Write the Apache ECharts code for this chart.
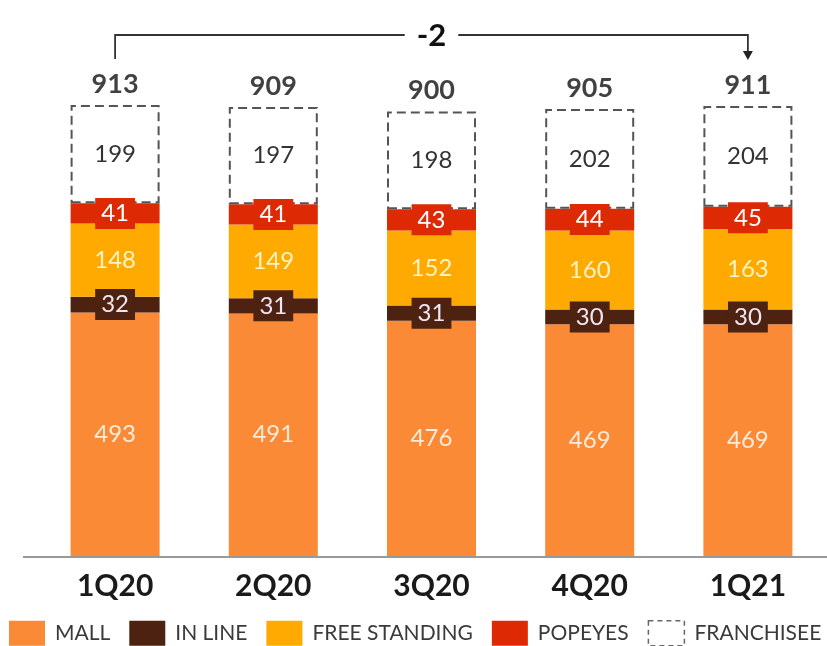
<!DOCTYPE html>
<html><head><meta charset="utf-8">
<script src="https://cdn.jsdelivr.net/npm/echarts@6/dist/echarts.min.js"></script>
<style>html,body{margin:0;padding:0;background:#fff}#c{width:827px;height:646px}</style>
</head><body><div id="c"></div>
<script>
const categories = ['1Q20','2Q20','3Q20','4Q20','1Q21'];
const mall = [493,491,476,469,469];
const inLine = [32,31,31,30,30];
const freeStanding = [148,149,152,160,163];
const popeyes = [41,41,43,44,45];
const franchisee = [199,197,198,202,204];
const totals = [913,909,900,905,911];
const changeLabel = '-2';

const FONT = 'Lato';
const chart = echarts.init(document.getElementById('c'));
const segLabel = (color) => ({show:true, position:'inside', color:color, fontSize:24, fontFamily:FONT});
const option = {
  animation:false,
  grid:{left:36, width:795, top:62, bottom:90},
  xAxis:{type:'category', data:categories, axisLine:{show:false}, axisTick:{show:false},
    axisLabel:{margin:15, fontSize:30, fontWeight:'bold', color:'#1a1a1a', fontFamily:FONT}},
  yAxis:{type:'value', min:0, max:1000, show:false, splitLine:{show:false}},
  legend:{top:620, left:9, right:0, padding:0, icon:'rect', itemWidth:36, itemHeight:25, itemGap:19,
    textStyle:{fontSize:21, color:'#3a3a3a', fontFamily:FONT, padding:[0,0,0,5]},
    data:['MALL','IN LINE','FREE STANDING','POPEYES',
      {name:'FRANCHISEE', itemStyle:{color:'#fff', borderColor:'#666', borderWidth:1.5, borderType:[5,4]}}]},
  series:[
    {name:'MALL', type:'bar', stack:'s', barWidth:89, data:mall, itemStyle:{color:'#FB8A36'},
      label:segLabel('#FFEBD8')},
    {name:'IN LINE', type:'bar', stack:'s', data:inLine, itemStyle:{color:'#4E2210'},
      label:Object.assign(segLabel('#EEE6F2'),{backgroundColor:'#4E2210', padding:[4,6,3,6]})},
    {name:'FREE STANDING', type:'bar', stack:'s', data:freeStanding, itemStyle:{color:'#FFAA00'},
      label:segLabel('#FFF3C4')},
    {name:'POPEYES', type:'bar', stack:'s', data:popeyes, itemStyle:{color:'#DD2A05'},
      label:Object.assign(segLabel('#FFFFFF'),{backgroundColor:'#DD2A05', padding:[4,6,3,6]})},
    {name:'FRANCHISEE', type:'bar', stack:'s', data:franchisee,
      itemStyle:{color:'#fff', borderColor:'#555', borderWidth:2, borderType:[9,5]},
      label:segLabel('#333')},
    {name:'total', type:'scatter', data:totals, symbol:'rect', symbolSize:1,
      itemStyle:{color:'rgba(0,0,0,0)'}, silent:true,
      label:{show:true, position:'top', distance:7, fontSize:27, fontWeight:'bold', color:'#111', fontFamily:FONT,
        formatter:p=>totals[p.dataIndex]}}
  ]
};
chart.setOption(option);

const p0 = chart.convertToPixel({seriesIndex:0}, [0, totals[0]]);
const pN = chart.convertToPixel({seriesIndex:0}, [categories.length-1, totals[categories.length-1]]);
const base = chart.convertToPixel({seriesIndex:0}, [0, 0]);
const hy = p0[1] - 70;
const y0 = p0[1] - 46;
const yN = pN[1] - 46;
chart.setOption({graphic:[
  {type:'line', shape:{x1:23, y1:base[1]+1, x2:827, y2:base[1]+1}, style:{stroke:'#999', lineWidth:2}},
  {type:'polyline', shape:{points:[[p0[0],y0],[p0[0],hy],[pN[0],hy],[pN[0],yN-8]]}, style:{stroke:'#333', lineWidth:1.8, fill:null}},
  {type:'polygon', shape:{points:[[pN[0]-5,yN-9],[pN[0]+5,yN-9],[pN[0],yN]]}, style:{fill:'#222'}},
  {type:'text', x:(p0[0]+pN[0])/2, y:hy+1, style:{text:changeLabel, align:'center', verticalAlign:'middle',
    font:'bold 31px '+FONT, fill:'#111', backgroundColor:'#fff', padding:[2,12,2,12]}}
]});
</script></body></html>
